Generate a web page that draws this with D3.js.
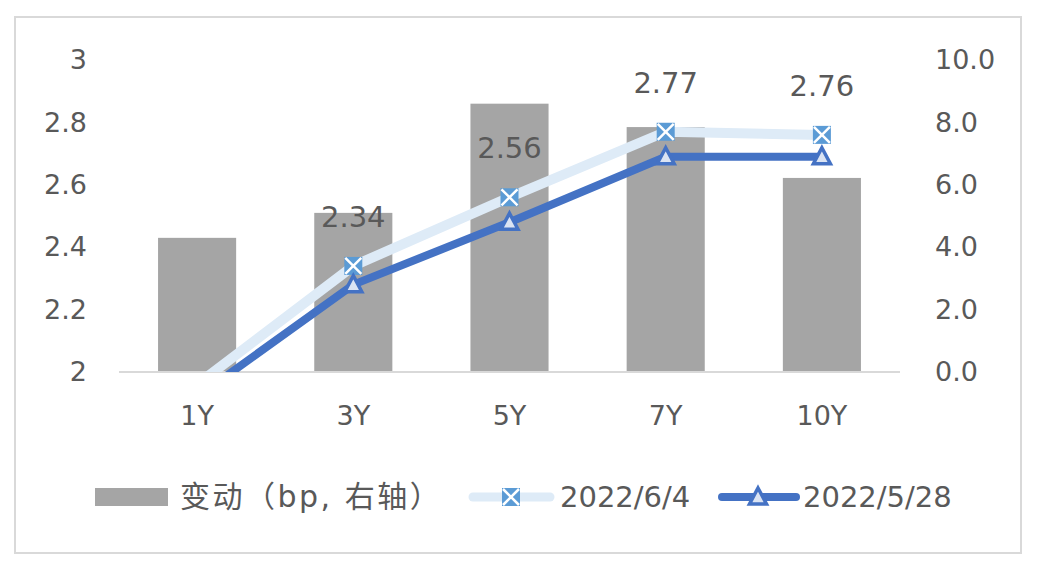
<!DOCTYPE html>
<html>
<head>
<meta charset="utf-8">
<script src="https://cdn.jsdelivr.net/npm/d3@7"></script>
<style>
  body { margin: 0; background: #fff; }
  svg text { font-family: "DejaVu Sans", "Noto Sans CJK SC", sans-serif; fill: #595959; }
</style>
</head>
<body>
<svg id="chart"></svg>
<script>
// chart data
const categories = ["1Y", "3Y", "5Y", "7Y", "10Y"];
const changeBp = [4.3, 5.1, 8.6, 7.85, 6.22];        // 变动（bp, 右轴）
const yield0604 = [1.96, 2.34, 2.56, 2.77, 2.76];     // 2022/6/4
const yield0528 = [1.92, 2.28, 2.48, 2.69, 2.69];     // 2022/5/28
const leftTicks = [2, 2.2, 2.4, 2.6, 2.8, 3];
const rightTicks = [0, 2, 4, 6, 8, 10];
const labelShown = [false, true, true, true, true];

const W = 1044, H = 578;
const margin = { top: 60, right: 144, bottom: 206, left: 119 };
const width = W - margin.left - margin.right;
const height = H - margin.top - margin.bottom;

const svg = d3.select("#chart").attr("width", W).attr("height", H);

// outer frame
svg.append("rect")
  .attr("x", 15).attr("y", 17)
  .attr("width", 1006).attr("height", 536)
  .attr("fill", "#fff")
  .attr("stroke", "#d9d9d9")
  .attr("stroke-width", 2);

const g = svg.append("g").attr("transform", `translate(${margin.left},${margin.top})`);

const x = d3.scaleBand().domain(categories).range([0, width]).paddingInner(0.5).paddingOuter(0.25);
const yLeft = d3.scaleLinear().domain([2, 3]).range([height, 0]);
const yRight = d3.scaleLinear().domain([0, 10]).range([height, 0]);

g.append("defs").append("clipPath").attr("id", "plotClip")
  .append("rect").attr("x", 0).attr("y", -20).attr("width", width).attr("height", height + 20);

// bars
g.selectAll(".bar")
  .data(categories)
  .join("rect")
  .attr("class", "bar")
  .attr("x", d => x(d))
  .attr("y", (d, i) => yRight(changeBp[i]))
  .attr("width", x.bandwidth())
  .attr("height", (d, i) => height - yRight(changeBp[i]))
  .attr("fill", "#a5a5a5");

// bottom axis line
g.append("line")
  .attr("x1", 0).attr("x2", width)
  .attr("y1", height).attr("y2", height)
  .attr("stroke", "#d9d9d9").attr("stroke-width", 2);

// left axis labels
const leftAxis = g.append("g").call(d3.axisLeft(yLeft).tickValues(leftTicks).tickSize(0).tickPadding(32).tickFormat(d3.format("")));
leftAxis.select(".domain").remove();
leftAxis.selectAll("text").style("font-size", "27px").attr("fill", "#595959");

// right axis labels
const rightAxis = g.append("g").attr("transform", `translate(${width},0)`)
  .call(d3.axisRight(yRight).tickValues(rightTicks).tickSize(0).tickPadding(35).tickFormat(d3.format(".1f")));
rightAxis.select(".domain").remove();
rightAxis.selectAll("text").style("font-size", "27px").attr("fill", "#595959");

// category labels
const xAxis = g.append("g").attr("transform", `translate(0,${height})`)
  .call(d3.axisBottom(x).tickSize(0).tickPadding(34));
xAxis.select(".domain").remove();
xAxis.selectAll("text").style("font-size", "27px").attr("fill", "#595959");

const cx = d => x(d) + x.bandwidth() / 2;
const lineGen = vals => d3.line().x(d => cx(d)).y((d, i) => yLeft(vals[i]))(categories);

const lines = g.append("g").attr("clip-path", "url(#plotClip)");
lines.append("path").attr("d", lineGen(yield0604))
  .attr("fill", "none").attr("stroke", "#deebf7").attr("stroke-width", 10).attr("stroke-linejoin", "round");
lines.append("path").attr("d", lineGen(yield0528))
  .attr("fill", "none").attr("stroke", "#4472c4").attr("stroke-width", 8).attr("stroke-linejoin", "round");

function crossMarker(sel, px, py) {
  sel.append("rect").attr("x", px - 9).attr("y", py - 9).attr("width", 18).attr("height", 18).attr("fill", "#5b9bd5");
  sel.append("path").attr("d", `M${px - 8},${py - 8}L${px + 8},${py + 8}M${px + 8},${py - 8}L${px - 8},${py + 8}`)
    .attr("stroke", "#fff").attr("stroke-width", 2.5);
}
function triMarker(sel, px, py) {
  sel.append("path").attr("d", `M${px},${py - 9}L${px + 8.5},${py + 7}L${px - 8.5},${py + 7}Z`)
    .attr("fill", "#dae3f3").attr("stroke", "#4472c4").attr("stroke-width", 3.5).attr("stroke-linejoin", "miter");
}

const markers = g.append("g");
categories.forEach((c, i) => {
  if (yield0604[i] >= 2) crossMarker(markers, cx(c), yLeft(yield0604[i]));
  if (yield0528[i] >= 2) triMarker(markers, cx(c), yLeft(yield0528[i]));
});

// data labels for 2022/6/4
g.selectAll(".dlabel")
  .data(categories.filter((c, i) => labelShown[i]))
  .join("text")
  .attr("class", "dlabel")
  .attr("x", d => cx(d))
  .attr("y", d => yLeft(yield0604[categories.indexOf(d)]) - 39)
  .attr("text-anchor", "middle")
  .style("font-size", "29px")
  .text(d => yield0604[categories.indexOf(d)].toFixed(2));

// legend
const lg = svg.append("g").attr("transform", "translate(0,497)");
lg.append("rect").attr("x", 95).attr("y", -9).attr("width", 73).attr("height", 18).attr("fill", "#a5a5a5");
lg.append("text").attr("x", 180).attr("y", 10).style("font-size", "30px").style("letter-spacing", "2.5px").text("变动（bp, 右轴）");

lg.append("line").attr("x1", 473).attr("x2", 550).attr("y1", 0).attr("y2", 0)
  .attr("stroke", "#deebf7").attr("stroke-width", 9).attr("stroke-linecap", "round");
crossMarker(lg, 511, 0);
lg.append("text").attr("x", 560).attr("y", 10).style("font-size", "29px").text("2022/6/4");

lg.append("line").attr("x1", 722).attr("x2", 796).attr("y1", 0).attr("y2", 0)
  .attr("stroke", "#4472c4").attr("stroke-width", 8).attr("stroke-linecap", "round");
triMarker(lg, 758, 0);
lg.append("text").attr("x", 803).attr("y", 10).style("font-size", "29px").text("2022/5/28");
</script>
</body>
</html>
